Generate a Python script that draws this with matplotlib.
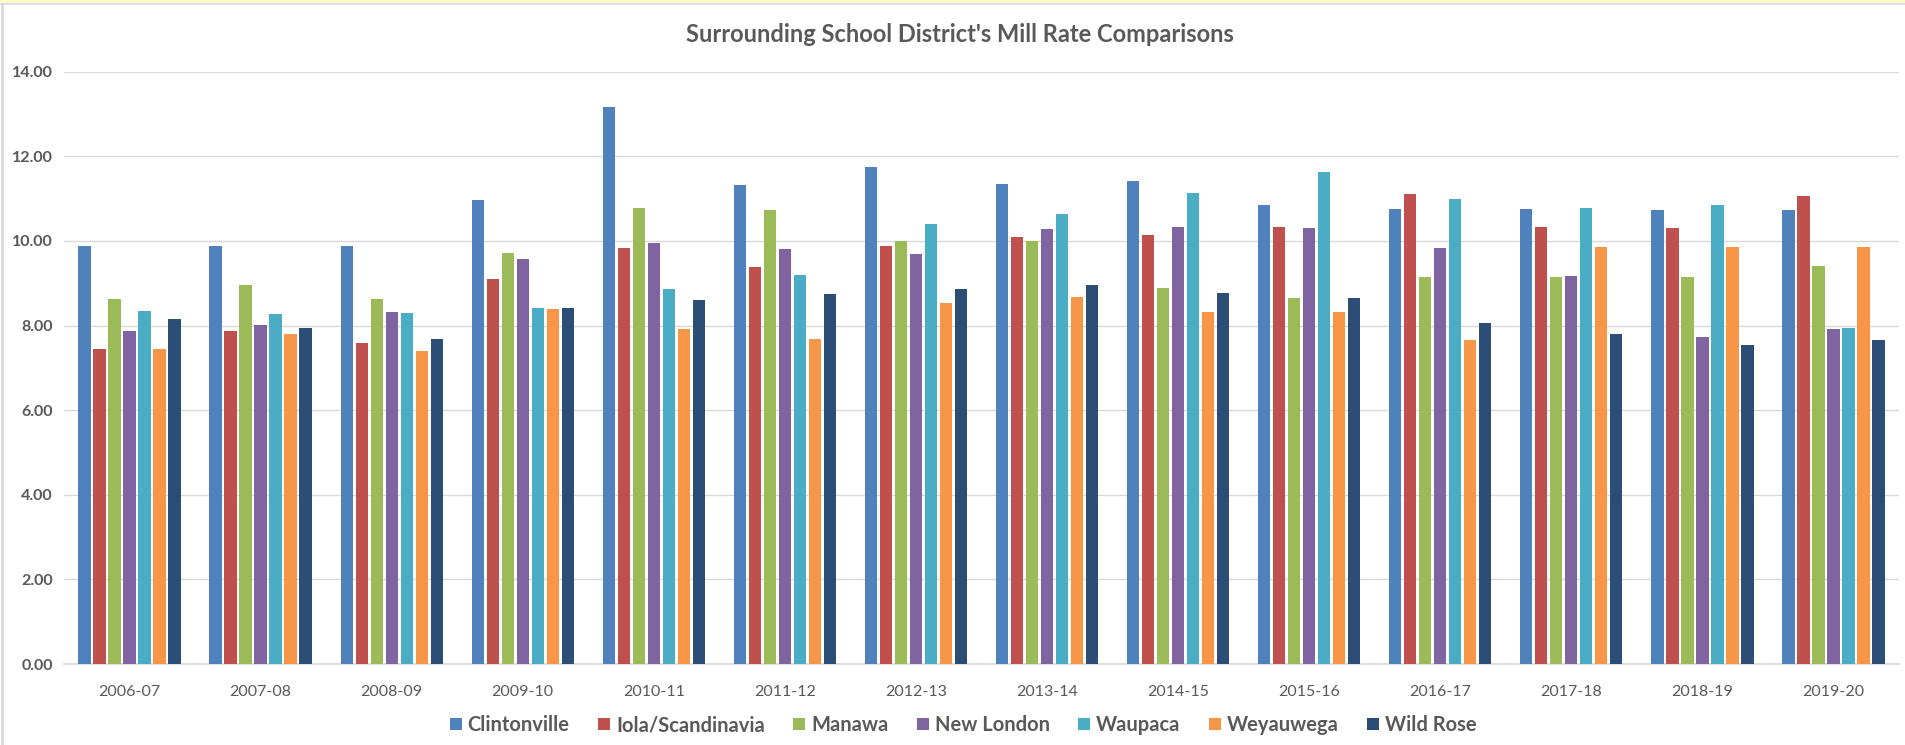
import matplotlib
matplotlib.use("Agg")
import matplotlib.pyplot as plt
import numpy as np
from matplotlib.patches import Patch, Rectangle
from matplotlib.lines import Line2D

years = ["2006-07", "2007-08", "2008-09", "2009-10", "2010-11", "2011-12", "2012-13",
         "2013-14", "2014-15", "2015-16", "2016-17", "2017-18", "2018-19", "2019-20"]

clintonville = [9.88, 9.88, 9.87, 10.96, 13.16, 11.33, 11.74, 11.34, 11.41, 10.86, 10.76, 10.76, 10.74, 10.74]
iola = [7.44, 7.87, 7.58, 9.10, 9.83, 9.39, 9.88, 10.09, 10.15, 10.33, 11.12, 10.33, 10.30, 11.06]
manawa = [8.63, 8.96, 8.63, 9.72, 10.79, 10.72, 10.00, 10.00, 8.89, 8.64, 9.15, 9.15, 9.15, 9.40]
new_london = [7.87, 8.02, 8.32, 9.58, 9.94, 9.82, 9.68, 10.29, 10.34, 10.30, 9.83, 9.17, 7.72, 7.93]
waupaca = [8.35, 8.27, 8.30, 8.41, 8.86, 9.19, 10.40, 10.64, 11.14, 11.63, 10.99, 10.78, 10.84, 7.95]
weyauwega = [7.44, 7.80, 7.40, 8.39, 7.91, 7.68, 8.54, 8.67, 8.31, 8.31, 7.67, 9.86, 9.86, 9.86]
wild_rose = [8.16, 7.95, 7.69, 8.41, 8.60, 8.75, 8.87, 8.97, 8.77, 8.64, 8.06, 7.79, 7.54, 7.67]

series_names = ["Clintonville", "Iola/Scandinavia", "Manawa", "New London", "Waupaca", "Weyauwega", "Wild Rose"]
series_values = [clintonville, iola, manawa, new_london, waupaca, weyauwega, wild_rose]
colors = ["#4F81BD", "#C0504D", "#9BBB59", "#8064A2", "#4BACC6", "#F79646", "#2C4D75"]

FONT = "Lato"
TXT = "#595959"
W, H = 1905, 745
fig = plt.figure(figsize=(W / 100, H / 100), dpi=100)
fig.patch.set_facecolor("white")

# chart frame decorations
fig.add_artist(Rectangle((0, 1 - 3 / H), 1, 3 / H, transform=fig.transFigure,
                         facecolor="#FFFAC8", edgecolor="none"))
fig.add_artist(Line2D([0, 1], [1 - 4 / H, 1 - 4 / H], transform=fig.transFigure,
                      color="#D9D9D9", lw=1.2))
fig.add_artist(Line2D([1.5 / W, 1.5 / W], [0, 1 - 4 / H], transform=fig.transFigure,
                      color="#D9D9D9", lw=2))

left, right = 64, 1899
top, bottom = 71.7, 664
ax = fig.add_axes([left / W, (H - bottom) / H, (right - left) / W, (bottom - top) / H])

x = np.arange(len(years))
pitch = 0.1144
bw = 0.094
n = len(series_names)
for i, (name, vals, c) in enumerate(zip(series_names, series_values, colors)):
    ax.bar(x + (i - (n - 1) / 2) * pitch, vals, width=bw, color=c, label=name, zorder=3)

ax.set_xlim(-0.5, len(years) - 0.5)
ax.set_ylim(0, 14)
ax.set_yticks(np.arange(0, 15, 2))
ax.set_yticklabels([f"{v:.2f}" for v in np.arange(0, 15, 2)], fontfamily=FONT,
                   fontweight="bold", fontsize=11.5, color=TXT)
ax.set_xticks(x)
ax.set_xticklabels(years, fontfamily=FONT, fontsize=11.5, color=TXT)
ax.tick_params(axis="both", length=0)
ax.tick_params(axis="x", pad=15)
ax.tick_params(axis="y", pad=8)
ax.grid(axis="y", color="#D9D9D9", lw=1, zorder=0)
for s in ["top", "right", "left"]:
    ax.spines[s].set_visible(False)
ax.spines["bottom"].set_color("#D9D9D9")
ax.spines["bottom"].set_linewidth(1.2)

fig.text(960 / W, 1 - 35 / H, "Surrounding School District's Mill Rate Comparisons",
         ha="center", va="center", fontfamily=FONT, fontweight="bold", fontsize=17, color=TXT)

handles = [Patch(facecolor=c, edgecolor="none") for c in colors]
fig.legend(handles, series_names, loc="center", bbox_to_anchor=(963 / W, 1 - 725 / H),
           ncol=7, frameon=False, handlelength=0.6, handleheight=0.6, handletextpad=0.3,
           columnspacing=1.4, prop={"family": FONT, "size": 14.5, "weight": "bold"},
           labelcolor=TXT)

fig.savefig("out.png", dpi=100, facecolor="white")
